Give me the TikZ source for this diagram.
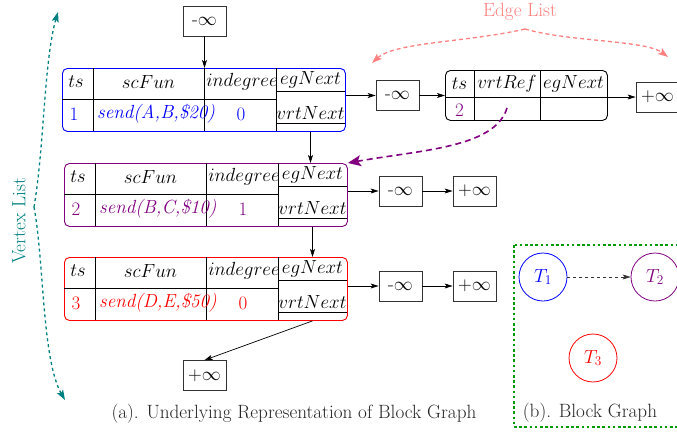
\RequirePackage{fix-cm}
\documentclass[tikz,border=0pt]{standalone}
\usetikzlibrary{arrows.meta,calc}
\tikzset{
  lbl/.style={font=\fontsize{19}{23}\selectfont, inner sep=0pt},
  captxt/.style={font=\fontsize{19.2}{23}\selectfont, inner sep=0pt},
  inf/.style={draw=black!80, line width=0.8pt, minimum width=43pt, minimum height=30pt, inner sep=0pt, font=\fontsize{19}{23}\selectfont},
  tabbox/.style={rounded corners=5pt, anchor=north west, inner sep=0pt, line width=0.9pt},
  grid/.style={line width=0.8pt},
  arr/.style={line width=0.7pt, -{Stealth[length=8pt,width=5pt,inset=2pt]}},
  tnode/.style={circle, minimum size=48pt, inner sep=0pt, line width=0.8pt, font=\fontsize{19}{23}\selectfont},
}
\newcommand\vtab[7]{%
\begin{scope}[shift={(#2,#3)}]
\node[tabbox, draw=#4, minimum width=283pt, minimum height=63pt] (#1) at (0,0) {};
\draw[grid] (31,0) -- (31,63) (142,0) -- (142,63) (214,0) -- (214,63)
  (0,31) -- (214,31) (214,23) -- (283,23) (214,55) -- (283,55);
\node[lbl] (#1ts) at (14,14) {$ts$};
\node[lbl] (#1sf) at (86.5,14) {$scFun$};
\node[lbl] (#1in) at (180,14) {$indegree$};
\node[lbl] (#1eg) at (248.5,12) {$egNext$};
\node[lbl, text=#4] (#1v) at (12,46) {#5};
\node[lbl, text=#4, anchor=west] (#1f) at (35,46) {\itshape #6};
\node[lbl, text=#4] (#1d) at (179,46) {#7};
\node[lbl] (#1vn) at (248.5,45) {$vrtNext$};
\end{scope}}
\begin{document}
\begin{tikzpicture}[x=1pt,y=-1pt]
\useasboundingbox (0,0) rectangle (677,437);
% vertex tables
\vtab{va}{62}{68}{blue}{1}{send(A,B,\$20)}{0}
\vtab{vb}{64}{163}{violet}{2}{send(B,C,\$10)}{1}
\vtab{vc}{64}{257}{red}{3}{send(D,E,\$50)}{0}
% sentinel boxes
\node[inf] (n0) at (204.5,21) {-$\infty$};
\node[inf] (p0) at (204.5,375.5) {+$\infty$};
\node[inf] (ma) at (397.5,95.5) {-$\infty$};
\node[inf] (pa) at (657.5,97) {+$\infty$};
\node[inf] (mb) at (400.5,191) {-$\infty$};
\node[inf] (pb) at (474.5,191) {+$\infty$};
\node[inf] (mc) at (400.5,286) {-$\infty$};
\node[inf] (pc) at (474.5,286) {+$\infty$};
% edge table
\begin{scope}[shift={(445,70)}]
\node[tabbox, draw=black, minimum width=162pt, minimum height=50pt] (ea) at (0,0) {};
\draw[grid] (29,0) -- (29,50) (95,0) -- (95,50) (0,27) -- (162,27);
\node[lbl] (eats) at (14.5,14) {$ts$};
\node[lbl] (earf) at (62,14) {$vrtRef$};
\node[lbl] (eaeg) at (128.5,14) {$egNext$};
\node[lbl, text=violet] (eav) at (14.5,40) {2};
\coordinate (eavr) at (62,38);
\end{scope}
% connectors
\draw[arr] (n0.south) -- (n0.south |- va.north);
\draw[arr] (va.east |- ma) -- (ma.west);
\draw[arr] (ma.east) -- (ma.east -| ea.west);
\draw[arr] (ea.east |- pa) -- (pa.west);
\draw[arr] (vavn |- va.south) -- (vavn |- vb.north);
\draw[arr] (vb.east |- mb) -- (mb.west);
\draw[arr] (mb.east) -- (pb.west);
\draw[arr] (vbvn |- vb.south) -- (vbvn |- vc.north);
\draw[arr] (vc.east |- mc) -- (mc.west);
\draw[arr] (mc.east) -- (pc.west);
\draw[arr] (vcvn |- vc.south) -- (p0.north);
\draw[violet, line width=1.6pt, dash pattern=on 6pt off 4pt, -{Stealth[length=13pt,width=11pt,inset=3pt]}]
  (eavr) .. controls (495,148) and (420,150) .. (vb.north east);
% Edge List label
\node[captxt, text=red!50] (el) at (520,11.5) {Edge List};
\coordinate (elc) at (525,29);
\draw[red!50, line width=1.3pt, dash pattern=on 4pt off 3pt, -{Stealth[length=10pt,width=7pt,inset=2pt]}]
  (elc) .. controls (470,42) and (395,42) .. (372,63);
\draw[red!50, line width=1.3pt, dash pattern=on 4pt off 3pt, -{Stealth[length=10pt,width=7pt,inset=2pt]}]
  (elc) .. controls (570,42) and (645,40) .. (668,57);
% Vertex List label
\node[captxt, text=teal, rotate=90] (vl) at (19,221) {Vertex List};
\coordinate (vlc) at (34,207);
\draw[teal, line width=1.3pt, dash pattern=on 3pt off 3pt, -{Stealth[length=10pt,width=7pt,inset=2pt]}]
  (vlc) .. controls (44,150) and (44,60) .. (58,12);
\draw[teal, line width=1.3pt, dash pattern=on 3pt off 3pt, -{Stealth[length=10pt,width=7pt,inset=2pt]}]
  (vlc) .. controls (44,260) and (42,360) .. (65,400);
% captions
\node[captxt, text=black!85] (capa) at (294,414) {(a). Underlying Representation of Block Graph};
% block graph
\draw[green!60!black, line width=2.6pt, dash pattern=on 2.6pt off 2.6pt] (514,245) rectangle (695,427);
\node[tnode, draw=blue, text=blue] (t1) at (543,277) {$T_1$};
\node[tnode, draw=violet, text=violet] (t2) at (655,277) {$T_2$};
\node[tnode, draw=red, text=red] (t3) at (593,358) {$T_3$};
\draw[arr, black!80, dashed] (t1) -- (t2);
\node[captxt, text=black!85] (capb) at (590,413) {(b). Block Graph};
\end{tikzpicture}
\end{document}
